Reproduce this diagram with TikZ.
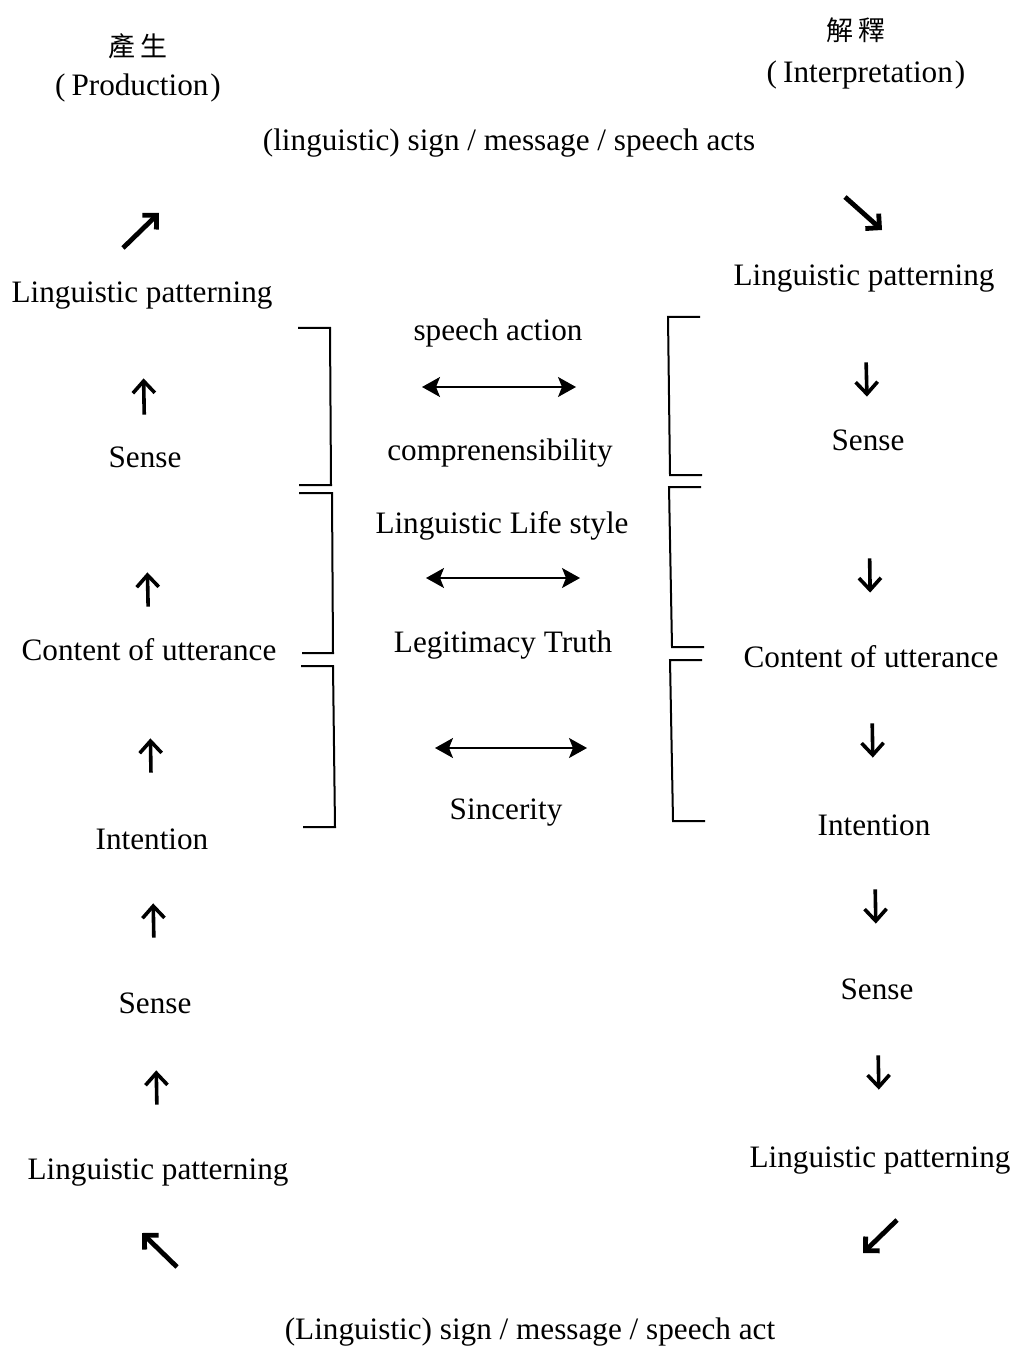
\documentclass[tikz,border=0pt]{standalone}
\usepackage{fontspec}
\setmainfont{Liberation Serif}
\newfontfamily\cjk{Noto Sans CJK TC}
\usetikzlibrary{arrows.meta}

\begin{document}
\begin{tikzpicture}[x=0.5pt,y=-0.5pt,
    lbl/.style={font=\fontsize{15.6}{18}\selectfont, inner sep=0pt, text height=12.5pt, text depth=1.5pt},
    hdr/.style={font=\cjk\fontsize{13.5}{15}\selectfont, inner sep=0pt},
    vup/.style={line width=1.8pt, -{Straight Barb[length=6pt,width=11pt]}},
    diag/.style={line width=2.4pt, -{Straight Barb[length=5pt,width=10pt]}},
    both/.style={line width=0.8pt, {Stealth[length=9pt,width=10pt,inset=2pt]}-{Stealth[length=9pt,width=10pt,inset=2pt]}},
    brk/.style={line width=1pt}]
    \useasboundingbox (0,0) rectangle (1013,1347);

    % Headings
    \node[hdr] (prodzh) at (138,46) {產\,生};
    \node[lbl] (prod) at (138,85) {(\hspace{3pt}Production\hspace{1pt})};
    \node[hdr] (interzh) at (856,30) {解\,釋};
    \node[lbl] (inter) at (866,72) {(\hspace{3pt}Interpretation\hspace{1pt})};
    \node[lbl] (topmsg) at (509,140) {(linguistic) sign / message / speech acts};
    \node[lbl] (botmsg) at (530,1328) {(Linguistic) sign / message / speech act};

    % Production column
    \node[lbl] (pl1) at (142,292) {Linguistic patterning};
    \node[lbl] (ls1) at (145,456) {Sense};
    \node[lbl] (lc) at (149,649) {Content of utterance};
    \node[lbl] (li) at (152,838) {Intention};
    \node[lbl] (ls2) at (155,1002) {Sense};
    \node[lbl] (pl2) at (158,1168) {Linguistic patterning};

    \draw[vup, shorten <=13.5pt, shorten >=36pt] (ls1) -- (pl1);
    \draw[vup, shorten <=14pt, shorten >=51pt] (lc) -- (ls1);
    \draw[vup, shorten <=25.5pt, shorten >=37.5pt] (li) -- (lc);
    \draw[vup, shorten <=25pt, shorten >=25.5pt] (ls2) -- (li);
    \draw[vup, shorten <=24.5pt, shorten >=27pt] (pl2) -- (ls2);

    % Interpretation column
    \node[lbl] (pr1) at (864,275) {Linguistic patterning};
    \node[lbl] (rs1) at (868,440) {Sense};
    \node[lbl] (rc) at (871,656) {Content of utterance};
    \node[lbl] (ri) at (874,824) {Intention};
    \node[lbl] (rs2) at (877,988) {Sense};
    \node[lbl] (pr2) at (880,1156) {Linguistic patterning};

    \draw[vup, shorten <=36.5pt, shorten >=14.5pt] (pr1) -- (rs1);
    \draw[vup, shorten <=52pt, shorten >=24.5pt] (rs1) -- (rc);
    \draw[vup, shorten <=26.5pt, shorten >=26pt] (rc) -- (ri);
    \draw[vup, shorten <=25.5pt, shorten >=25pt] (ri) -- (rs2);
    \draw[vup, shorten <=26.5pt, shorten >=26pt] (rs2) -- (pr2);

    % Corner arrows
    \coordinate (ne0) at (123,248); \coordinate (ne1) at (159,213);
    \coordinate (se0) at (845,197); \coordinate (se1) at (882,230);
    \coordinate (nw0) at (177,1267); \coordinate (nw1) at (142,1233);
    \coordinate (sw0) at (897,1220); \coordinate (sw1) at (863,1253);
    \draw[diag] (ne0) -- (ne1);
    \draw[diag] (se0) -- (se1);
    \draw[diag] (nw0) -- (nw1);
    \draw[diag] (sw0) -- (sw1);

    % Validity claims
    \node[lbl] (act) at (498,330) {speech action};
    \node[lbl] (compr) at (500,449) {comprenensibility};
    \node[lbl] (life) at (502,522) {Linguistic Life style};
    \node[lbl] (legit) at (503,641) {Legitimacy Truth};
    \node[lbl] (sinc) at (506,808) {Sincerity};

    \coordinate (h1a) at (422,387); \coordinate (h1b) at (576,387);
    \coordinate (h2a) at (426,578); \coordinate (h2b) at (580,578);
    \coordinate (h3a) at (435,748); \coordinate (h3b) at (587,748);
    \draw[both] (h1a) -- (h1b);
    \draw[both] (h2a) -- (h2b);
    \draw[both] (h3a) -- (h3b);

    % Brackets
    \draw[brk] (298,328) -- (330,328) -- (331,485) -- (299,485);
    \draw[brk] (299,493) -- (332,493) -- (333,653) -- (302,653);
    \draw[brk] (301,666) -- (333,666) -- (335,827) -- (303,827);
    \draw[brk] (700,317) -- (668,317) -- (670,475) -- (702,475);
    \draw[brk] (701,487) -- (669,487) -- (672,647) -- (704,647);
    \draw[brk] (702,660) -- (670,660) -- (673,821) -- (705,821);
\end{tikzpicture}
\end{document}
